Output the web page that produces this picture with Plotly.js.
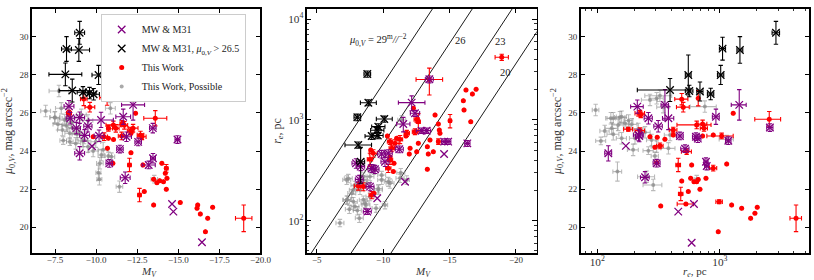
<!DOCTYPE html>
<html><head><meta charset="utf-8">
<script src="https://cdn.plot.ly/plotly-3.0.1.min.js"></script>
<style>html,body{margin:0;padding:0;background:#fff}#plot{width:814px;height:280px}</style>
</head><body><div id="plot"></div>
<script>
// ---------------- Panel 1 : M_V vs mu_0,V ----------------
const p1BlackMV   = [-9.0, -8.2, -8.95, -8.13, -10.15, -8.55, -9.2, -9.6, -9.85];
const p1BlackMu   = [30.2, 29.35, 29.3, 28.02, 27.99, 27.17, 27.08, 27.04, 26.98];
const p1BlackMVE  = [0.3, 0.3, 0.65, 1.0, 0.4, 0.8, 0.35, 0.4, 0.35];
const p1BlackMuE  = [0.6, 0.65, 0.6, 0.6, 0.5, 0.6, 0.3, 0.3, 0.3];

const p1PurpMV  = [-8.35, -8.43, -9.0, -10.3, -11.65, -12.25, -13.45, -14.95, -9.5, -9.3, -10.18, -11.85, -12.56, -9.0, -11.45, -10.8, -13.46, -13.2, -11.77, -8.8];
const p1PurpMu  = [26.35, 25.72, 25.75, 25.63, 25.8, 26.42, 25.2, 24.6, 25.3, 24.82, 24.8, 24.75, 24.48, 23.88, 24.1, 23.35, 23.62, 23.27, 22.6, 25.2];
const p1PurpMVE = [0.3, 0.25, 0.3, 0.75, 0.45, 0.7, 0.2, 0.15, 0.25, 0.3, 0.3, 0.3, 0.2, 0.3, 0.2, 0.2, 0.15, 0.4, 0.3, 0.25];
const p1PurpMuE = [0.3, 0.3, 0.3, 0.4, 0.4, 0.8, 0.25, 0.2, 0.3, 0.3, 0.3, 0.25, 0.2, 0.35, 0.2, 0.2, 0.25, 0.2, 0.3, 0.3];
const p1PurpXMV = [-9.75, -14.62, -14.7, -16.44];
const p1PurpXMu = [24.25, 21.22, 20.82, 19.21];

const p1RedMV  = [-8.35, -9.25, -9.62, -10.67, -12.4, -13.6, -11.05, -11.2, -11.72, -12.1, -12.25, -12.7, -9.82, -10.49, -10.75, -11.06, -11.55, -12.12, -12.79, -10.69, -12.12, -11.02, -12.03, -12.85, -14.0, -14.27, -14.21, -13.5, -13.7, -13.87, -14.1, -14.31, -14.27, -12.64, -12.93, -13.5, -15.12, -16.18, -16.14, -16.34, -17.09, -16.79, -16.65, -18.98, -10.75, -11.6];
const p1RedMu  = [25.98, 26.73, 26.3, 26.8, 25.98, 25.72, 25.37, 25.19, 25.35, 25.05, 25.2, 24.84, 24.75, 24.75, 24.67, 24.6, 24.79, 24.93, 24.75, 24.14, 23.91, 23.36, 23.27, 23.27, 23.36, 23.09, 22.83, 22.52, 22.34, 22.44, 22.39, 22.57, 21.99, 21.69, 21.87, 21.17, 21.3, 21.17, 21.0, 20.7, 21.05, 20.47, 19.77, 20.47, 25.19, 25.45];
const p1RedMVE = [0.15, 0.2, 0.3, 0.45, 0, 0.7, 0.45, 0.2, 0.2, 0.2, 0.3, 0.2, 0, 0.2, 0, 0, 0.2, 0, 0.25, 0, 0, 0, 0.1, 0, 0, 0.1, 0, 0, 0, 0, 0, 0, 0, 0.1, 0, 0, 0, 0, 0, 0, 0, 0, 0, 0.5, 0.1, 0.15];
const p1RedMuE = [0.15, 0.35, 0.25, 0.4, 0, 0.4, 0.2, 0.2, 0.2, 0.2, 0.2, 0.2, 0, 0.2, 0, 0, 0.2, 0, 0.15, 0, 0, 0, 0.35, 0, 0, 0.2, 0, 0, 0, 0, 0, 0, 0, 0.35, 0, 0, 0, 0, 0, 0, 0, 0, 0, 0.7, 0.15, 0.15];

const p1GrayMV  = [-7.74, -6.93, -7.48, -7.88, -7.68, -8.09, -8.19, -7.95, -8.4, -8.6, -8.84, -8.4, -8.76, -9.2, -9.51, -9.98, -9.82, -10.43, -10.87, -10.32, -10.93, -10.23, -8.23, -9.1, -9.27, -10.14, -10.2, -11.42, -10.75, -13.54, -7.5, -8.5, -9.0, -8.0, -9.5];
const p1GrayMu  = [27.15, 26.1, 25.75, 26.24, 25.4, 25.63, 25.33, 25.1, 24.93, 25.19, 24.88, 24.49, 24.4, 24.53, 24.23, 24.49, 24.0, 24.06, 26.24, 23.79, 23.7, 23.36, 25.72, 25.9, 24.58, 22.86, 22.52, 22.13, 23.74, 22.52, 25.77, 25.5, 25.0, 24.55, 25.6];
const p1GrayMVE = [0.6, 0.3, 0.3, 0.35, 0.3, 0.3, 0.3, 0.3, 0.3, 0.3, 0.3, 0.2, 0.3, 0.3, 0.3, 0.3, 0.3, 0.3, 0.3, 0.2, 0.2, 0.2, 0.3, 0.3, 0.2, 0.15, 0.15, 0.2, 0.2, 0.2, 0.3, 0.3, 0.3, 0.2, 0.3];
const p1GrayMuE = [0.3, 0.3, 0.3, 0.3, 0.3, 0.3, 0.3, 0.3, 0.3, 0.3, 0.3, 0.2, 0.3, 0.3, 0.3, 0.3, 0.3, 0.4, 0.3, 0.3, 0.2, 0.3, 0.3, 0.3, 0.2, 0.4, 0.3, 0.3, 0.2, 0.2, 0.3, 0.3, 0.3, 0.2, 0.3];

// ---------------- Panel 2 : M_V vs r_e ----------------
const p2BlackMV  = [-8.81, -8.89, -8.06, -10.09, -9.64, -9.56, -9.14, -8.13, -8.31, -9.6];
const p2BlackRe  = [2860, 1485, 1064, 1023, 858, 790, 692, 565, 385, 700];
const p2BlackMVE = [0.25, 0.6, 0.25, 0.6, 0.5, 0.5, 0.5, 1.0, 0.3, 0.4];
const p2BlackReE = [200, 100, 80, 70, 60, 50, 50, 40, 150, 50];

const p2PurpMV  = [-13.48, -12.15, -12.4, -11.52, -12.9, -13.28, -11.22, -10.39, -9.89, -10.14, -9.14, -8.31, -7.96, -8.21, -9.39, -8.81, -14.6, -14.9, -16.34, -9.01];
const p2PurpRe  = [2536, 1486, 1165, 912, 783, 783, 512, 467, 459, 385, 331, 344, 372, 257, 324, 123, 610, 610, 586, 218];
const p2PurpMVE = [0.3, 1.0, 0.35, 0.5, 0.4, 0.3, 0.3, 0.3, 0.3, 0.3, 0.3, 0.3, 0.3, 0.3, 0.3, 0.3, 0.2, 0.2, 0.2, 0.3];
const p2PurpReE = [200, 250, 80, 150, 50, 50, 40, 40, 40, 40, 30, 30, 40, 25, 30, 8, 40, 40, 40, 20];
const p2PurpXMV = [-11.65, -14.59, -9.56];
const p2PurpXRe = [244, 459, 167];

const p2RedMV  = [-18.93, -16.24, -16.72, -17.0, -16.04, -16.09, -16.6, -15.04, -13.48, -13.91, -12.28, -12.53, -14.16, -14.23, -14.28, -14.16, -13.78, -13.53, -13.33, -13.4, -12.65, -12.53, -12.03, -11.97, -12.65, -12.4, -11.78, -11.72, -11.27, -11.02, -10.9, -10.52, -10.65, -10.32, -9.26, -9.07, -10.52, -10.82, -10.39, -10.77, -8.13, -8.51, -9.31, -9.14, -13.33, -9.01, -10.52];
const p2RedRe  = [4200, 1986, 1811, 2018, 1556, 1258, 962, 984, 2520, 1120, 1306, 1010, 912, 794, 738, 610, 484, 631, 543, 459, 586, 484, 523, 459, 961, 765, 738, 693, 642, 658, 586, 610, 523, 694, 467, 504, 401, 371, 331, 307, 221, 218, 187, 180, 324, 408, 430];
const p2RedMVE = [0.5, 0, 0, 0, 0, 0, 0, 0.1, 1.0, 0, 0, 0.2, 0, 0, 0, 0.1, 0, 0, 0, 0, 0, 0, 0, 0, 0.15, 0.2, 0.2, 0, 0.2, 0, 0.3, 0.2, 0.2, 0, 0.3, 0, 0.2, 0, 0.2, 0, 0.3, 0.2, 0, 0.2, 0, 0.2, 0];
const p2RedReE = [300, 0, 0, 0, 0, 0, 0, 150, 750, 0, 0, 60, 0, 0, 0, 40, 0, 0, 0, 0, 0, 0, 0, 0, 200, 50, 50, 0, 60, 0, 50, 40, 40, 0, 40, 0, 40, 0, 30, 0, 20, 20, 0, 15, 0, 60, 0];

const p2GrayMV  = [-6.75, -7.46, -7.31, -7.76, -8.21, -8.06, -8.51, -8.71, -9.01, -7.64, -8.26, -7.88, -7.26, -8.51, -9.64, -9.89, -10.14, -10.52, -11.33, -11.78, -9.31, -9.01, -7.38, -7.76, -7.26, -8.51, -9.89, -9.64, -10.39, -11.27, -8.64, -9.47, -7.88, -8.77, -11.4, -9.2];
const p2GrayRe  = [95, 130, 161, 155, 106, 126, 161, 143, 173, 187, 202, 226, 254, 254, 202, 254, 143, 235, 300, 254, 318, 274, 263, 202, 161, 274, 284, 209, 244, 264, 149, 133, 138, 235, 1000, 330];
const p2GrayMVE = [0.3, 0.3, 0.3, 0.3, 0.3, 0.3, 0.3, 0.3, 0.3, 0.3, 0.3, 0.3, 0.3, 0.3, 0.3, 0.3, 0.2, 0.3, 0.3, 0.2, 0.3, 0.3, 0.3, 0.3, 0.3, 0.3, 0.3, 0.3, 0.3, 0.3, 0.3, 0.3, 0.3, 0.3, 0.3, 0.3];
const p2GrayReE = [8, 12, 15, 15, 10, 12, 15, 14, 15, 18, 20, 20, 25, 25, 20, 25, 12, 25, 30, 25, 30, 25, 25, 20, 15, 25, 25, 20, 25, 25, 15, 12, 12, 20, 100, 30];

// constant central surface brightness lines in panel 2
const muLevels  = [29, 26, 23, 20];
const muLineMV  = [-3, -23];
const muZeroPt  = 22.2;
const muLabels  = ['<i>μ</i><sub>0,<i>V</i></sub> = 29<sup>m</sup><i>//</i><sup>−2</sup>', '26', '23', '20'];
const muLabelMV = [-9.6, -15.84, -18.8, -19.18];
const muLabelLogRe = [3.794, 3.785, 3.775, 3.467];

// ---------------- Panel 3 : r_e vs mu_0,V ----------------
const p3BlackRe  = [2860, 1050, 1455, 552, 1014, 392, 562, 687, 840];
const p3BlackMu  = [30.2, 29.37, 29.3, 27.99, 27.99, 27.2, 27.15, 27.12, 26.99];
const p3BlackReE = [200, 60, 80, 30, 60, 180, 40, 40, 50];
const p3BlackMuE = [0.6, 0.6, 0.7, 1.05, 0.5, 0.6, 0.3, 0.5, 0.3];

const p3PurpRe  = [212, 356, 1436, 261, 380, 927, 314, 2553, 217, 123, 220, 472, 637, 519, 769, 780, 305, 245, 1170, 660];
const p3PurpMu  = [26.33, 26.42, 26.42, 25.72, 25.72, 25.8, 25.3, 25.23, 24.84, 23.88, 24.79, 24.79, 24.75, 24.12, 23.44, 23.21, 23.36, 22.62, 24.54, 24.65];
const p3PurpReE = [25, 25, 200, 20, 40, 60, 25, 150, 20, 8, 15, 30, 40, 40, 30, 30, 20, 20, 60, 40];
const p3PurpMuE = [0.35, 0.8, 0.8, 0.3, 0.6, 0.4, 0.3, 0.2, 0.3, 0.4, 0.3, 0.2, 0.2, 0.2, 0.2, 0.2, 0.2, 0.3, 0.2, 0.2];
const p3PurpXRe = [171, 457, 614, 588];
const p3PurpXMu = [24.27, 20.82, 21.22, 19.19];

const p3RedRe  = [488, 502, 665, 223, 1282, 2522, 646, 722, 179, 223, 416, 741, 269, 308, 356, 324, 295, 416, 535, 722, 882, 1032, 305, 457, 588, 881, 1135, 577, 614, 646, 665, 769, 687, 488, 479, 552, 329, 528, 986, 1245, 1503, 1778, 1927, 2013, 968, 4170, 226];
const p3RedMu  = [26.72, 26.3, 26.77, 25.98, 25.98, 25.67, 25.37, 25.42, 25.14, 25.07, 25.1, 25.19, 24.75, 24.72, 24.62, 24.27, 24.2, 24.84, 23.97, 24.79, 24.84, 24.79, 23.39, 23.27, 23.27, 23.1, 23.32, 22.57, 22.39, 22.39, 22.5, 22.57, 21.99, 22.43, 21.75, 21.87, 21.12, 21.22, 21.34, 21.17, 21.0, 20.47, 20.74, 21.05, 19.77, 20.47, 25.9];
const p3RedReE = [60, 60, 0, 20, 0, 600, 200, 60, 15, 20, 30, 50, 0, 0, 0, 20, 0, 0, 50, 0, 0, 250, 0, 20, 0, 60, 0, 0, 0, 0, 0, 0, 0, 0, 20, 0, 0, 80, 60, 0, 0, 0, 0, 0, 0, 450, 15];
const p3RedMuE = [0.3, 0.25, 0.4, 0.15, 0, 0.4, 0.2, 0.2, 0.1, 0.15, 0.15, 0.15, 0, 0, 0, 0.15, 0, 0, 0.15, 0, 0, 0.15, 0, 0.35, 0, 0.15, 0, 0, 0, 0, 0, 0, 0, 0, 0.35, 0, 0, 0, 0.1, 0, 0, 0, 0, 0, 0, 0.7, 0.15];

const p3GrayRe  = [97, 324, 269, 305, 345, 135, 158, 131, 148, 168, 191, 216, 115, 107, 135, 158, 203, 245, 277, 380, 305, 196, 392, 753, 146, 286, 253, 295, 646, 1135, 261, 129, 153, 180];
const p3GrayMu  = [26.15, 26.9, 26.68, 26.77, 26.3, 25.72, 25.8, 25.19, 25.37, 25.46, 25.4, 25.16, 25.05, 24.53, 24.88, 24.67, 24.67, 24.98, 24.58, 24.14, 24.23, 24.06, 24.84, 26.33, 22.92, 22.22, 22.65, 23.74, 22.52, 24.62, 24.02, 25.72, 25.77, 25.6];
const p3GrayReE = [6, 80, 40, 40, 40, 15, 15, 15, 15, 15, 20, 20, 10, 10, 15, 15, 20, 25, 25, 50, 30, 20, 40, 180, 12, 50, 40, 20, 30, 150, 25, 12, 15, 15];
const p3GrayMuE = [0.3, 0.3, 0.3, 0.3, 0.3, 0.3, 0.3, 0.3, 0.3, 0.3, 0.3, 0.3, 0.3, 0.2, 0.3, 0.3, 0.3, 0.3, 0.3, 0.3, 0.3, 0.3, 0.3, 0.3, 0.5, 0.3, 0.3, 0.2, 0.2, 0.2, 0.2, 0.3, 0.3, 0.3];

const legendNames = ['MW &amp; M31', 'MW &amp; M31, <i>μ</i><sub>0,<i>V</i></sub> &gt; 26.5', 'This Work', 'This Work, Possible'];

// ---------------- styles ----------------
const SERIF = 'Liberation Serif, Times New Roman, serif';
const styles = {
  purple: {marker: {symbol: 'x-thin-open', size: 7.5, color: '#800080', line: {color: '#800080', width: 1.3}}, ecol: '#800080'},
  black:  {marker: {symbol: 'x-thin-open', size: 7.5, color: '#000000', line: {color: '#000000', width: 1.3}}, ecol: '#000000'},
  red:    {marker: {symbol: 'circle', size: 5, color: '#ff0000'}, ecol: '#ff0000'},
  gray:   {marker: {symbol: 'circle', size: 4, color: 'rgba(140,140,140,0.75)'}, ecol: 'rgba(140,140,140,0.6)'}
};

function tr(xa, ya, x, y, ex, ey, st, name, rank, showlegend) {
  const s = styles[st];
  const t = {
    type: 'scatter', mode: 'markers', x: x, y: y, xaxis: xa, yaxis: ya,
    marker: s.marker, name: name, legendgroup: st, legendrank: rank,
    showlegend: !!showlegend, hoverinfo: 'skip', cliponaxis: true
  };
  if (ex) t.error_x = {type: 'data', array: ex, visible: true, color: s.ecol, thickness: 1.1, width: 2.2};
  if (ey) t.error_y = {type: 'data', array: ey, visible: true, color: s.ecol, thickness: 1.1, width: 2.2};
  return t;
}

const data = [];
// panel 1
data.push(tr('x', 'y', p1GrayMV, p1GrayMu, p1GrayMVE, p1GrayMuE, 'gray', legendNames[3], 4, true));
data.push(tr('x', 'y', p1RedMV, p1RedMu, p1RedMVE, p1RedMuE, 'red', legendNames[2], 3, true));
data.push(tr('x', 'y', p1PurpMV, p1PurpMu, p1PurpMVE, p1PurpMuE, 'purple', legendNames[0], 1, true));
data.push(tr('x', 'y', p1PurpXMV, p1PurpXMu, null, null, 'purple', legendNames[0], 1, false));
data.push(tr('x', 'y', p1BlackMV, p1BlackMu, p1BlackMVE, p1BlackMuE, 'black', legendNames[1], 2, true));
// panel 2 lines
muLevels.forEach(function (mu) {
  data.push({type: 'scatter', mode: 'lines', xaxis: 'x2', yaxis: 'y2', showlegend: false, hoverinfo: 'skip',
    x: muLineMV, y: muLineMV.map(function (m) { return Math.pow(10, (mu - m - muZeroPt) / 5); }),
    line: {color: '#000', width: 0.9}});
});
data.push(tr('x2', 'y2', p2GrayMV, p2GrayRe, p2GrayMVE, p2GrayReE, 'gray', '', 4, false));
data.push(tr('x2', 'y2', p2RedMV, p2RedRe, p2RedMVE, p2RedReE, 'red', '', 3, false));
data.push(tr('x2', 'y2', p2PurpMV, p2PurpRe, p2PurpMVE, p2PurpReE, 'purple', '', 1, false));
data.push(tr('x2', 'y2', p2PurpXMV, p2PurpXRe, null, null, 'purple', '', 1, false));
data.push(tr('x2', 'y2', p2BlackMV, p2BlackRe, p2BlackMVE, p2BlackReE, 'black', '', 2, false));
// panel 3
data.push(tr('x3', 'y3', p3GrayRe, p3GrayMu, p3GrayReE, p3GrayMuE, 'gray', '', 4, false));
data.push(tr('x3', 'y3', p3RedRe, p3RedMu, p3RedReE, p3RedMuE, 'red', '', 3, false));
data.push(tr('x3', 'y3', p3PurpRe, p3PurpMu, p3PurpReE, p3PurpMuE, 'purple', '', 1, false));
data.push(tr('x3', 'y3', p3PurpXRe, p3PurpXMu, null, null, 'purple', '', 1, false));
data.push(tr('x3', 'y3', p3BlackRe, p3BlackMu, p3BlackReE, p3BlackMuE, 'black', '', 2, false));

const tickFont = {family: SERIF, size: 9, color: '#333'};
const titleFont = {family: SERIF, size: 12, color: '#333'};
const xTitleFont = {family: SERIF, size: 11, color: '#333'};
function ax(extra) {
  return Object.assign({
    showline: true, linecolor: '#000', linewidth: 1.6, mirror: 'allticks',
    ticks: 'inside', ticklen: 4.5, tickwidth: 1, tickcolor: '#000',
    showgrid: false, zeroline: false, tickfont: tickFont, automargin: false, fixedrange: true
  }, extra);
}
const logMinor = {ticks: 'inside', ticklen: 2.5, tickwidth: 0.8, tickcolor: '#000', dtick: 'D1', showgrid: false};

const MVtitle = '<i>M</i><sub><i>V</i></sub>';
const mutitle = '<i>μ</i><sub>0,<i>V</i></sub>, mag arcsec<sup>−2</sup>';
const retitle = '<i>r</i><sub><i>e</i></sub>, pc';

// x-axis titles as annotations below each panel (centred under each domain)
const xTitleText = [MVtitle, MVtitle, retitle];
const xTitleCentre = [0.1830, 0.5200, 0.8538];

const yDom = [0.0964, 0.9679];
const annotations = muLabels.map(function (t, i) {
  return {xref: 'x2', yref: 'y2', x: muLabelMV[i], y: muLabelLogRe[i], text: t, showarrow: false,
    font: {family: SERIF, size: 10.5, color: '#222'}};
}).concat(xTitleText.map(function (t, i) {
  return {xref: 'paper', yref: 'paper', x: xTitleCentre[i], y: 0.0, xanchor: 'center', yanchor: 'bottom',
    text: t, showarrow: false, font: xTitleFont, borderpad: 0};
}));

const layout = {
  width: 814, height: 280, margin: {l: 0, r: 0, t: 0, b: 0},
  paper_bgcolor: '#fff', plot_bgcolor: '#fff', showlegend: true,
  font: {family: SERIF, color: '#222'},
  legend: {x: 0.1237, y: 0.95, xanchor: 'left', yanchor: 'top', bgcolor: '#fff',
    bordercolor: '#cccccc', borderwidth: 1, font: {family: SERIF, size: 10, color: '#222'},
    tracegroupgap: 0, itemsizing: 'trace'},
  xaxis: ax({domain: [0.0393, 0.3200], range: [-6.1, -20], tick0: 0, dtick: 2.5, tickformat: '.1f', anchor: 'y', ticklabelstandoff: -2}),
  yaxis: ax({domain: yDom, range: [18.65, 31.45], tick0: 0, dtick: 2, anchor: 'x',
    title: {text: mutitle, font: titleFont, standoff: 4}}),
  xaxis2: ax({domain: [0.3768, 0.6593], range: [-4.25, -21.56], tick0: 0, dtick: 5, anchor: 'y2', ticklabelstandoff: -2}),
  yaxis2: ax({domain: yDom, type: 'log', range: [1.679, 4.102], dtick: 1, exponentformat: 'power', anchor: 'x2',
    minor: logMinor, title: {text: retitle, font: titleFont, standoff: 4}}),
  xaxis3: ax({domain: [0.7134, 0.9942], type: 'log', range: [1.865, 3.728], dtick: 1, exponentformat: 'power', anchor: 'y3',
    minor: logMinor, ticklabelstandoff: -2}),
  yaxis3: ax({domain: yDom, range: [18.65, 31.45], tick0: 0, dtick: 2, anchor: 'x3',
    title: {text: mutitle, font: titleFont, standoff: 4}}),
  annotations: annotations
};

Plotly.newPlot('plot', data, layout, {staticPlot: true, displayModeBar: false});
</script></body></html>
